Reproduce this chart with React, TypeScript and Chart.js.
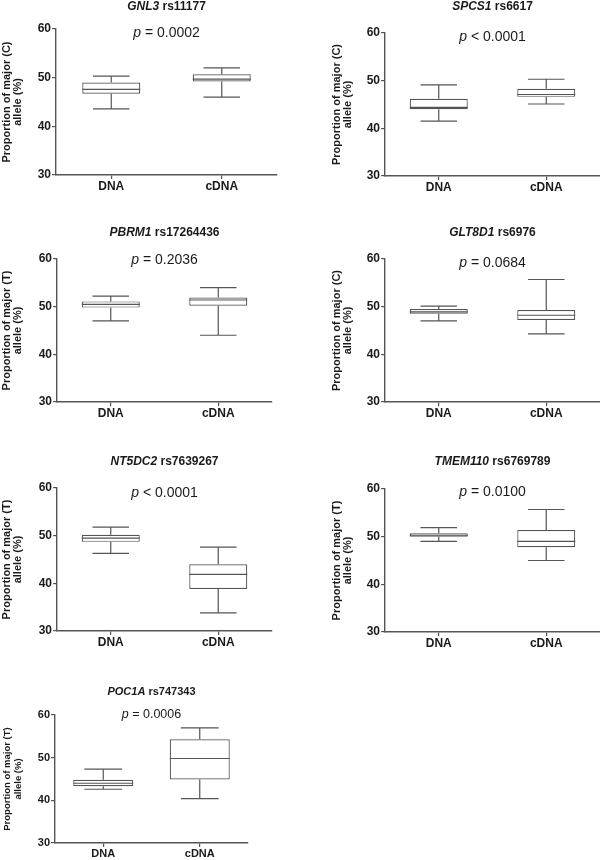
import React, { useEffect, useRef } from 'react';
import { Chart, registerables } from 'chart.js';

Chart.register(...registerables);

// ---------- DATA ----------
const groups = ['DNA', 'cDNA'];
const genes = ['GNL3', 'SPCS1', 'PBRM1', 'GLT8D1', 'NT5DC2', 'TMEM110', 'POC1A'];
const snps = ['rs11177', 'rs6617', 'rs17264436', 'rs6976', 'rs7639267', 'rs6769789', 'rs747343'];
const majorAlleles = ['C', 'C', 'T', 'C', 'T', 'T', 'T'];
const pValues = ['= 0.0002', '< 0.0001', '= 0.2036', '= 0.0684', '< 0.0001', '= 0.0100', '= 0.0006'];
const yTicks = [30, 40, 50, 60];

// DNA box statistics (one entry per panel)
const dnaMin = [43.6, 41.5, 47.0, 47.0, 46.3, 49.0, 42.6];
const dnaQ1 = [46.7, 44.0, 49.8, 48.5, 48.7, 50.0, 43.3];
const dnaMedian = [47.6, 44.4, 50.5, 48.9, 49.5, 50.3, 44.0];
const dnaQ3 = [49.0, 46.2, 51.1, 49.5, 50.2, 50.7, 44.8];
const dnaMax = [50.3, 49.1, 52.2, 50.1, 51.8, 51.9, 47.3];

// cDNA box statistics (one entry per panel)
const cdnaMin = [46.0, 45.1, 44.0, 44.3, 33.8, 45.0, 40.4];
const cdnaQ1 = [49.2, 46.6, 50.2, 47.2, 38.8, 47.8, 44.9];
const cdnaMedian = [49.7, 47.1, 51.4, 48.2, 41.9, 49.0, 49.8];
const cdnaQ3 = [50.7, 48.3, 51.9, 49.3, 44.0, 51.4, 54.3];
const cdnaMax = [52.0, 50.3, 54.0, 55.7, 47.6, 55.7, 57.0];

// ---------- LAYOUT / STYLE ----------
const FONT = '"Liberation Sans", Arial, Helvetica, sans-serif';
const TEXT = '#1a1a1a';
const LINE = '#555555';

type Layout = {
  cx: number; cy: number; cw: number; ch: number;
  pl: number; pt: number; pr: number; pb: number;
  titleY: number; pY: number; small?: boolean;
};

const LAYOUTS: Layout[] = [
  { cx: 0, cy: 0, cw: 300, ch: 200, pl: 56, pt: 29, pr: 277, pb: 175, titleY: 7, pY: 33.5 },
  { cx: 330, cy: 0, cw: 270, ch: 200, pl: 385, pt: 33, pr: 600, pb: 176, titleY: 7, pY: 37.5 },
  { cx: 0, cy: 215, cw: 300, ch: 205, pl: 57, pt: 259, pr: 272, pb: 402, titleY: 233, pY: 260 },
  { cx: 330, cy: 215, cw: 270, ch: 205, pl: 385, pt: 259, pr: 600, pb: 402, titleY: 233, pY: 262.7 },
  { cx: 0, cy: 440, cw: 300, ch: 215, pl: 57, pt: 488, pr: 272, pb: 631, titleY: 461.7, pY: 492.7 },
  { cx: 330, cy: 440, cw: 270, ch: 215, pl: 385, pt: 489, pr: 600, pb: 632, titleY: 461.7, pY: 491.7 },
  { cx: 0, cy: 665, cw: 280, ch: 195, pl: 55, pt: 715, pr: 248, pb: 843, titleY: 691.5, pY: 715, small: true },
];

const boxPlotPlugin = {
  id: 'boxPlot',
  afterDatasetsDraw(chart: any, _args: any, opts: any) {
    const { ctx } = chart;
    const x = chart.scales.x;
    const y = chart.scales.y;
    const meta = chart.getDatasetMeta(0);
    ctx.save();
    ctx.strokeStyle = LINE;
    ctx.lineWidth = 1.2;
    (opts.stats as number[][]).forEach((s, i) => {
      const cx = x.getPixelForValue(i);
      const bar = meta.data[i];
      const half = bar.width / 2;
      const cap = half * 0.63;
      const [mn, q1, md, q3, mx] = s.map((v) => y.getPixelForValue(v));
      ctx.beginPath();
      ctx.moveTo(cx - half, md); ctx.lineTo(cx + half, md);
      ctx.moveTo(cx, q3); ctx.lineTo(cx, mx);
      ctx.moveTo(cx - cap, mx); ctx.lineTo(cx + cap, mx);
      ctx.moveTo(cx, q1); ctx.lineTo(cx, mn);
      ctx.moveTo(cx - cap, mn); ctx.lineTo(cx + cap, mn);
      ctx.stroke();
    });
    ctx.restore();
  },
};

const labelsPlugin = {
  id: 'panelLabels',
  afterDraw(chart: any, _args: any, opts: any) {
    const { ctx, chartArea } = chart;
    const mid = (chartArea.left + chartArea.right) / 2;
    ctx.save();
    ctx.fillStyle = TEXT;
    ctx.textBaseline = 'middle';
    ctx.textAlign = 'left';
    // title: italic gene + snp
    const fI = `italic bold ${opts.titleSize}px ${FONT}`;
    const fB = `bold ${opts.titleSize}px ${FONT}`;
    ctx.font = fI;
    const w1 = ctx.measureText(opts.gene).width;
    ctx.font = fB;
    const rest = ' ' + opts.snp;
    const w2 = ctx.measureText(rest).width;
    let sx = mid - (w1 + w2) / 2;
    ctx.font = fI;
    ctx.fillText(opts.gene, sx, opts.titleY);
    ctx.font = fB;
    ctx.fillText(rest, sx + w1, opts.titleY);
    // p-value
    const pI = `italic ${opts.pSize}px ${FONT}`;
    const pN = `${opts.pSize}px ${FONT}`;
    ctx.font = pI;
    const pw1 = ctx.measureText('p').width;
    ctx.font = pN;
    const ptxt = ' ' + opts.p;
    const pw2 = ctx.measureText(ptxt).width;
    sx = mid - (pw1 + pw2) / 2;
    ctx.font = pI;
    ctx.fillText('p', sx, opts.pY);
    ctx.font = pN;
    ctx.fillText(ptxt, sx + pw1, opts.pY);
    ctx.restore();
  },
};

function Panel({ idx }: { idx: number }) {
  const ref = useRef<HTMLCanvasElement | null>(null);
  const L = LAYOUTS[idx];
  useEffect(() => {
    if (!ref.current) return;
    const small = !!L.small;
    const xH = 26;
    const yW = L.pl - L.cx;
    const boxPx = small ? 60 : 58;
    const catW = (L.pr - L.pl) / 2;
    const stats = [
      [dnaMin[idx], dnaQ1[idx], dnaMedian[idx], dnaQ3[idx], dnaMax[idx]],
      [cdnaMin[idx], cdnaQ1[idx], cdnaMedian[idx], cdnaQ3[idx], cdnaMax[idx]],
    ];
    const tickSize = small ? 11 : 12;
    const chart = new Chart(ref.current, {
      type: 'bar',
      data: {
        labels: groups,
        datasets: [
          {
            data: [
              [dnaQ1[idx], dnaQ3[idx]],
              [cdnaQ1[idx], cdnaQ3[idx]],
            ] as any,
            backgroundColor: '#ffffff',
            borderColor: LINE,
            borderWidth: 1.2,
            borderSkipped: false,
            barPercentage: boxPx / catW,
            categoryPercentage: 1,
          },
        ],
      },
      options: {
        responsive: false,
        animation: false,
        events: [],
        layout: {
          padding: {
            left: 0,
            top: L.pt - L.cy,
            right: L.cx + L.cw - L.pr,
            bottom: L.cy + L.ch - L.pb - xH,
          },
        },
        plugins: {
          legend: { display: false },
          tooltip: { enabled: false },
          title: { display: false },
          boxPlot: { stats },
          panelLabels: {
            gene: genes[idx],
            snp: snps[idx],
            p: pValues[idx],
            titleY: L.titleY - L.cy,
            pY: L.pY - L.cy,
            titleSize: small ? 11 : 12,
            pSize: small ? 12.5 : 14,
          },
        } as any,
        scales: {
          x: {
            type: 'category',
            offset: true,
            grid: {
              display: true,
              offset: false,
              drawOnChartArea: false,
              drawTicks: true,
              tickLength: 4,
              color: LINE,
              lineWidth: 1.2,
            },
            border: { display: true, color: LINE, width: 1.4 },
            ticks: {
              color: TEXT,
              padding: 0,
              font: { family: FONT, size: tickSize, weight: 'bold' },
              maxRotation: 0,
            },
            afterFit: (s: any) => { s.height = xH; },
          },
          y: {
            min: yTicks[0],
            max: yTicks[yTicks.length - 1],
            afterBuildTicks: (s: any) => { s.ticks = yTicks.map((v) => ({ value: v })); },
            grid: {
              display: true,
              drawOnChartArea: false,
              drawTicks: true,
              tickLength: 4,
              color: LINE,
              lineWidth: 1.2,
            },
            border: { display: true, color: LINE, width: 1.4 },
            ticks: {
              color: TEXT,
              padding: 1,
              font: { family: FONT, size: tickSize, weight: 'bold' },
            },
            title: {
              display: true,
              text: [`Proportion of major (${majorAlleles[idx]})`, 'allele (%)'],
              color: TEXT,
              font: { family: FONT, size: small ? 9.5 : 11, weight: 'bold', lineHeight: small ? 1.15 : 1.0 },
              padding: { top: small ? 1.8 : 1.5, bottom: 0 },
            },
            afterFit: (s: any) => { s.width = yW; },
          },
        },
      } as any,
      plugins: [boxPlotPlugin, labelsPlugin],
    });
    return () => chart.destroy();
  }, [idx]);
  return (
    <canvas
      ref={ref}
      width={L.cw}
      height={L.ch}
      style={{ position: 'absolute', left: L.cx, top: L.cy, width: L.cw, height: L.ch }}
    />
  );
}

export default function App() {
  return (
    <div style={{ position: 'absolute', left: 0, top: 0, width: 600, height: 860, background: '#ffffff', overflow: 'hidden' }}>
      {LAYOUTS.map((_, i) => (
        <Panel key={i} idx={i} />
      ))}
    </div>
  );
}
